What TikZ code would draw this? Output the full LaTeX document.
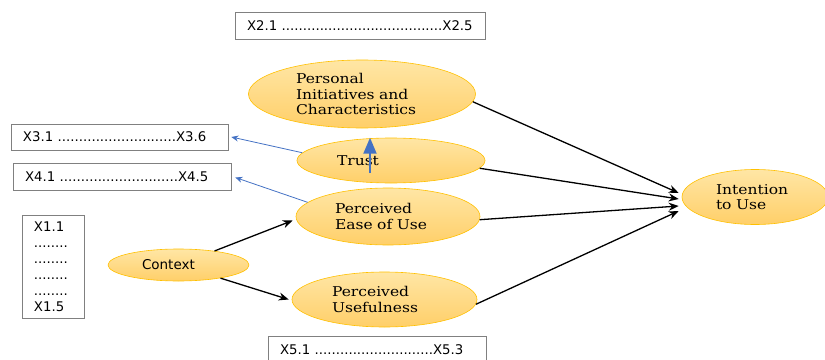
\documentclass[tikz,border=0pt]{standalone}
\usepackage{fontspec}
\usepackage{tikz}
\usetikzlibrary{shapes.geometric,arrows.meta,calc}
\newfontfamily\cajafont{DejaVu Sans}
\newfontfamily\elipfont[FakeStretch=1.15]{DejaVu Serif}
\definecolor{oro}{RGB}{255,192,0}
\definecolor{oroclaro}{RGB}{255,230,165}
\definecolor{orooscuro}{RGB}{255,207,105}
\definecolor{azul}{RGB}{68,114,196}
\definecolor{gris}{RGB}{128,128,128}
\newcommand{\puntos}[1]{\foreach \k in {1,...,#1}{.}}

\begin{document}
\begin{tikzpicture}[x=1pt,y=-1pt]
\tikzset{
  elipse/.style={draw=oro,line width=0.6pt,ellipse,top color=oroclaro,bottom color=orooscuro,
    inner sep=0pt,align=left,font=\elipfont\fontsize{13.5}{15.5}\selectfont},
  caja/.style={draw=gris,line width=0.7pt,fill=white,rectangle,inner xsep=12pt,inner ysep=0pt,
    minimum height=27pt,align=left,font=\cajafont\fontsize{13.3}{16}\selectfont},
  flecha/.style={-{Stealth[length=10pt,width=8pt]},line width=1.3pt,black},
  flechaazul/.style={-{Stealth[length=7pt,width=6pt]},line width=0.8pt,azul},
  flechagruesa/.style={-{Triangle[length=16pt,width=13pt]},line width=2pt,azul}
}
\useasboundingbox (0,0) rectangle (825,359);

% Elipses
\node (pic) at (362,94) [elipse,minimum width=227pt,minimum height=68pt,text width=132pt] {Personal\\Initiatives and\\Characteristics};
\node (trust) at (391,160.5) [elipse,minimum width=188pt,minimum height=45pt,text width=108pt] {Trust};
\node (peou) at (388,216.5) [elipse,minimum width=184pt,minimum height=57pt,text width=106pt] {Perceived\\Ease of Use};
\node (pu) at (384.5,299.5) [elipse,minimum width=185pt,minimum height=55pt,text width=105pt] {Perceived\\Usefulness};
\node (ctx) at (178.5,265) [elipse,minimum width=141pt,minimum height=32pt,text width=73pt,font=\cajafont\fontsize{13.5}{16}\selectfont] {Context};
\node (intent) at (755,197) [elipse,minimum width=146pt,minimum height=55pt,text width=78pt] {Intention\\to Use};

% Indicadores
\node (x2) at (360,26) [caja,text width=226pt] {\mbox{X2.1 \puntos{38}X2.5}};
\node (x3) at (119.5,137) [caja,text width=193pt,minimum height=26pt] {\mbox{X3.1 \puntos{28}X3.6}};
\node (x4) at (122,176.5) [caja,text width=194pt] {\mbox{X4.1 \puntos{28}X4.5}};
\node (x5) at (377,349.5) [caja,text width=194pt] {\mbox{X5.1 \puntos{28}X5.3}};
\node (x1) at (53,266.5) [caja,text width=38pt,minimum height=103pt] {X1.1\\\puntos{8}\\\puntos{8}\\\puntos{8}\\\puntos{8}\\X1.5};

% Flechas negras
\draw[flecha] (ctx) -- ($(peou.west)+(-3,4)$);
\draw[flecha] (ctx) -- ($(pu.west)+(-3,0)$);
\draw[flecha] (pic.-4) -- ($(intent.west)+(-3,-4)$);
\draw[flecha] (trust.-5) -- ($(intent.west)+(-3,2)$);
\draw[flecha] (peou.-2) -- ($(intent.west)+(-3,9)$);
\draw[flecha] (pu.-3) -- ($(intent.west)+(-3,14)$);

% Flechas azules
\draw[flechaazul] (trust.175) -- ($(x3.east)+(3,0)$);
\draw[flechaazul] (peou.170) -- ($(x4.east)+(4,1)$);
\coordinate (base) at (370,173);
\draw[flechagruesa] (base) -- (base |- trust.north);

\end{tikzpicture}
\end{document}
